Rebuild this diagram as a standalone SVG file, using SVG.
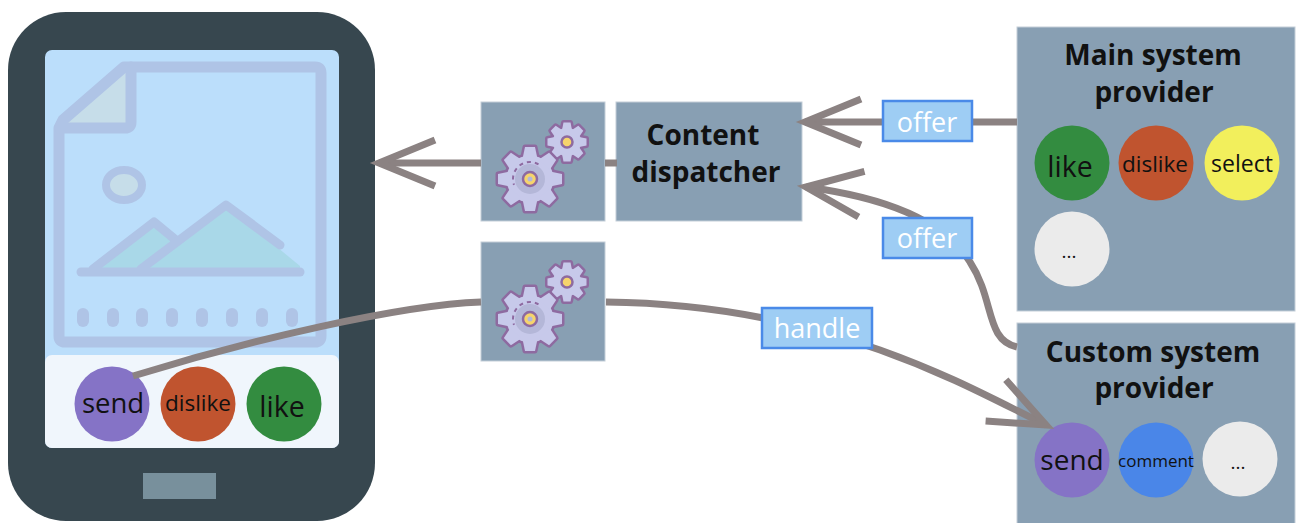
<svg xmlns="http://www.w3.org/2000/svg" xmlns:xlink="http://www.w3.org/1999/xlink" width="1301" height="523" viewBox="0 0 1301 523">
  <style>
    text { font-family: "Open Sans", "Noto Sans", "DejaVu Sans", sans-serif; fill: #111; text-anchor: middle; }
    .title { font-weight: bold; font-size: 28px; }
    .box { fill: #889fb3; stroke: #c3ced8; stroke-width: 1; }
    .conn { fill: none; stroke: #8b8282; stroke-width: 7; }
    .lbl rect { fill: #9ecdf4; stroke: #4a8ae8; stroke-width: 2.5; }
    .lbl text { fill: #ffffff; font-size: 27px; }
    .doc { fill: none; stroke: #afc4e6; stroke-linecap: round; stroke-linejoin: round; }
  </style>
  <defs>
    <marker id="openArrow" markerUnits="userSpaceOnUse" viewBox="-70 -40 80 80" markerWidth="80" markerHeight="80" refX="0" refY="0" orient="auto" overflow="visible">
      <path d="M -56 -23 L 0 0 L -56 23" fill="none" stroke="#8b8282" stroke-width="7"/>
    </marker>
    <!-- gear silhouettes (fill/stroke set where used) -->
    <g id="bigGearShape">
      <circle r="23.5"/>
      <polygon points="-5,-32 5,-32 7.5,-20 -7.5,-20"/>
      <polygon points="-5,-32 5,-32 7.5,-20 -7.5,-20" transform="rotate(45)"/>
      <polygon points="-5,-32 5,-32 7.5,-20 -7.5,-20" transform="rotate(90)"/>
      <polygon points="-5,-32 5,-32 7.5,-20 -7.5,-20" transform="rotate(135)"/>
      <polygon points="-5,-32 5,-32 7.5,-20 -7.5,-20" transform="rotate(180)"/>
      <polygon points="-5,-32 5,-32 7.5,-20 -7.5,-20" transform="rotate(225)"/>
      <polygon points="-5,-32 5,-32 7.5,-20 -7.5,-20" transform="rotate(270)"/>
      <polygon points="-5,-32 5,-32 7.5,-20 -7.5,-20" transform="rotate(315)"/>
    </g>
    <g id="smallGearShape">
      <circle r="14"/>
      <polygon points="-3.5,-19.5 3.5,-19.5 5,-12 -5,-12"/>
      <polygon points="-3.5,-19.5 3.5,-19.5 5,-12 -5,-12" transform="rotate(45)"/>
      <polygon points="-3.5,-19.5 3.5,-19.5 5,-12 -5,-12" transform="rotate(90)"/>
      <polygon points="-3.5,-19.5 3.5,-19.5 5,-12 -5,-12" transform="rotate(135)"/>
      <polygon points="-3.5,-19.5 3.5,-19.5 5,-12 -5,-12" transform="rotate(180)"/>
      <polygon points="-3.5,-19.5 3.5,-19.5 5,-12 -5,-12" transform="rotate(225)"/>
      <polygon points="-3.5,-19.5 3.5,-19.5 5,-12 -5,-12" transform="rotate(270)"/>
      <polygon points="-3.5,-19.5 3.5,-19.5 5,-12 -5,-12" transform="rotate(315)"/>
    </g>
    <!-- pair of gears, positioned relative to the box corner -->
    <g id="gears">
      <g transform="translate(86,40)">
        <use xlink:href="#smallGearShape" fill="#8e6aa0" stroke="#8e6aa0" stroke-width="5" stroke-linejoin="round"/>
        <use xlink:href="#smallGearShape" fill="#c7c9ea"/>
        <circle r="5.5" fill="#f6d46c" stroke="#8e6aa0" stroke-width="2.5"/>
      </g>
      <g transform="translate(49,77)">
        <use xlink:href="#bigGearShape" fill="#8e6aa0" stroke="#8e6aa0" stroke-width="5" stroke-linejoin="round"/>
        <use xlink:href="#bigGearShape" fill="#c7c9ea"/>
        <circle r="15" fill="#b4b7d8"/>
        <path d="M 8.5 -14.7 A 17 17 0 0 0 -16 5.8" fill="none" stroke="#8e6aa0" stroke-width="2" stroke-dasharray="4 4"/>
        <circle r="7" fill="#f6d46c" stroke="#8e6aa0" stroke-width="2.5"/>
        <circle r="2.5" fill="#b4b7d8"/>
      </g>
    </g>
  </defs>

  <rect width="1301" height="523" fill="#ffffff"/>

  <!-- tablet with the content preview -->
  <g id="tablet">
    <rect x="8" y="12" width="367" height="509" rx="58" fill="#37474f"/>
    <rect x="45" y="50" width="294" height="398" rx="7" fill="#bbdefb"/>
    <!-- document picture -->
    <path d="M 131 67 L 131 122 Q 131 128 125 128 L 59 128 Z" fill="#c6dde9"/>
    <path class="doc" stroke-width="11" d="M 59 128 L 59 336 Q 59 342 65 342 L 315 342 Q 321 342 321 336 L 321 73 Q 321 67 315 67 L 124 67 L 63 120 Z"/>
    <path class="doc" stroke-width="11" d="M 131 67 L 131 122 Q 131 128 125 128 L 60 128"/>
    <ellipse cx="124" cy="185" rx="18" ry="15" fill="#c6dde9" stroke="#afc4e6" stroke-width="8"/>
    <polygon points="93,271 154,222 180,243 143,271" fill="#a9d8e8"/>
    <polygon points="140,271 226,205 300,266 300,271" fill="#a9d8e8"/>
    <polyline class="doc" stroke-width="9" points="93,269 154,222 177,241"/>
    <polyline class="doc" stroke-width="9" points="141,269 226,205 280,245"/>
    <line class="doc" stroke-width="9" x1="81" y1="272" x2="300" y2="272"/>
    <g class="doc" stroke-width="12">
      <line x1="83" y1="314" x2="83" y2="321"/>
      <line x1="113" y1="314" x2="113" y2="321"/>
      <line x1="142" y1="314" x2="142" y2="321"/>
      <line x1="172" y1="314" x2="172" y2="321"/>
      <line x1="202" y1="314" x2="202" y2="321"/>
      <line x1="232" y1="314" x2="232" y2="321"/>
      <line x1="262" y1="314" x2="262" y2="321"/>
      <line x1="292" y1="314" x2="292" y2="321"/>
    </g>
    <rect x="45" y="355" width="294" height="93" rx="7" fill="#f0f6fc"/>
    <rect x="143" y="473" width="73" height="26" fill="#78909c"/>
    <circle cx="112" cy="404" r="37.5" fill="#8573c6"/>
    <text x="113" y="413" font-size="27.5">send</text>
    <circle cx="198" cy="404" r="37.5" fill="#c0542f"/>
    <text x="198" y="411" font-size="22.5">dislike</text>
    <circle cx="284" cy="404" r="37.5" fill="#338c40"/>
    <text x="282" y="417" font-size="28.5">like</text>
  </g>

  <g id="gear-box-dispatch">
    <rect class="box" x="481" y="102" width="124" height="119"/>
    <use xlink:href="#gears" x="481" y="102"/>
  </g>

  <g id="gear-box-handle">
    <rect class="box" x="481" y="242" width="124" height="119"/>
    <use xlink:href="#gears" x="481" y="242"/>
  </g>

  <g id="content-dispatcher">
    <rect class="box" x="616" y="102" width="186" height="119"/>
    <text class="title" x="703" y="145">Content</text>
    <text class="title" x="706" y="182">dispatcher</text>
  </g>

  <g id="main-provider">
    <rect class="box" x="1017" y="27" width="278" height="284"/>
    <text class="title" x="1153" y="65">Main system</text>
    <text class="title" x="1154" y="102">provider</text>
    <circle cx="1072" cy="163" r="37.5" fill="#338c40"/>
    <text x="1070" y="177" font-size="28.5">like</text>
    <circle cx="1156" cy="163" r="37.5" fill="#c0542f"/>
    <text x="1155" y="172" font-size="22.5">dislike</text>
    <circle cx="1242" cy="163" r="37.5" fill="#f2ef5c"/>
    <text x="1242" y="172" font-size="23">select</text>
    <circle cx="1072" cy="249" r="37.5" fill="#ebebeb"/>
    <text x="1069" y="258" font-size="19">...</text>
  </g>

  <g id="custom-provider">
    <rect class="box" x="1017" y="323" width="278" height="210"/>
    <text class="title" x="1153" y="362">Custom system</text>
    <text class="title" x="1154" y="398">provider</text>
    <circle cx="1072" cy="460" r="37.5" fill="#8573c6"/>
    <text x="1072" y="470" font-size="28">send</text>
    <circle cx="1156" cy="460" r="37.5" fill="#4a86e8"/>
    <text x="1156" y="467" font-size="17">comment</text>
    <circle cx="1240" cy="459" r="37.5" fill="#ebebeb"/>
    <text x="1238" y="469" font-size="19">...</text>
  </g>

  <!-- connectors -->
  <g id="connectors">
    <path class="conn" d="M 133 376 C 250 340, 400 305, 481 302"/>
    <path class="conn" d="M 481 163 L 379 163" marker-end="url(#openArrow)"/>
    <path class="conn" d="M 605 163 L 617 163"/>
    <path class="conn" d="M 1017 122 L 805 122" marker-end="url(#openArrow)"/>
    <path class="conn" d="M 1017 347 C 985 340, 995 300, 970 262 C 945 222, 890 198, 806 187" marker-end="url(#openArrow)"/>
    <path class="conn" d="M 606 302 C 700 303, 790 318, 880 350 C 950 375, 995 400, 1046 425" marker-end="url(#openArrow)"/>
  </g>

  <!-- connector labels -->
  <g id="labels">
    <g class="lbl">
      <rect x="883" y="101" width="89" height="40"/>
      <text x="927" y="132">offer</text>
    </g>
    <g class="lbl">
      <rect x="883" y="218" width="89" height="40"/>
      <text x="927" y="248">offer</text>
    </g>
    <g class="lbl">
      <rect x="762" y="308" width="110" height="40"/>
      <text x="817" y="338" font-size="28">handle</text>
    </g>
  </g>
</svg>
